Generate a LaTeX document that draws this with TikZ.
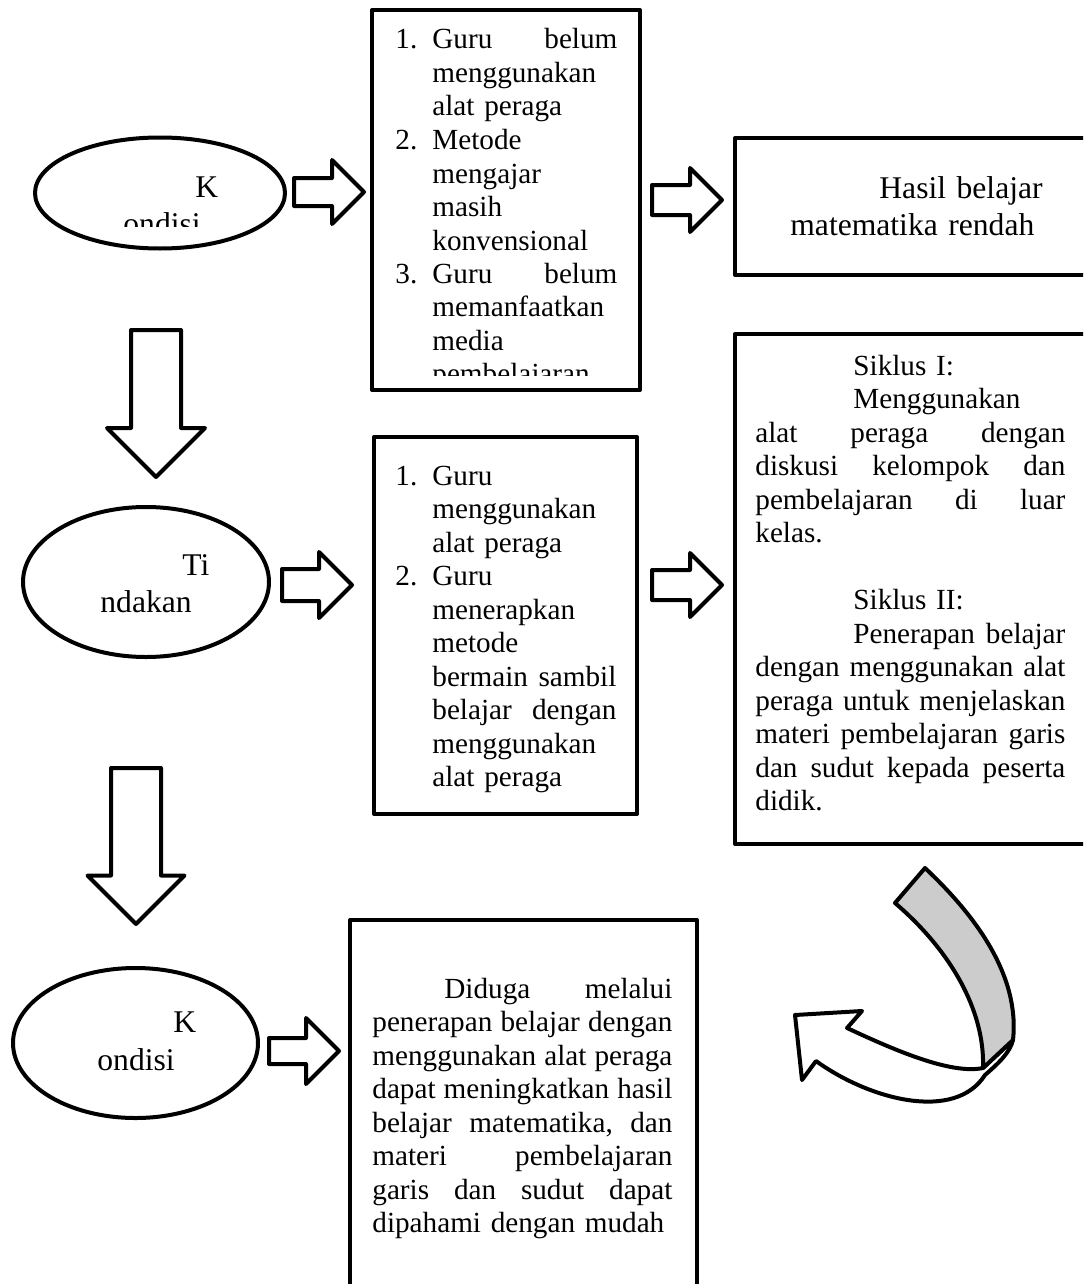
\documentclass[tikz,border=0pt]{standalone}
\usepackage{fontspec}
\setmainfont{Liberation Serif}
\usetikzlibrary{shapes.geometric,shapes.arrows}

\definecolor{ribbon}{HTML}{CCCCCC}
\newcommand{\bodyfont}{\fontsize{14.6}{16.75}\selectfont}
\newcommand{\bigfont}{\fontsize{15.8}{18.5}\selectfont}
\newcommand{\itemno}[1]{\leavevmode\llap{\makebox[18.5pt][l]{#1}}}

\tikzset{
	box/.style={draw, line width=2pt, rectangle, anchor=north west, inner sep=0pt},
	bubble/.style={draw, line width=2pt, ellipse, inner sep=0pt},
	txt/.style={inner sep=0pt, anchor=base west, align=left, font=\bodyfont},
	blk/.style={draw, line width=2pt, single arrow, anchor=tail, inner xsep=0pt,
		single arrow tip angle=90, minimum height=35pt},
}

\begin{document}
\begin{tikzpicture}[x=0.5pt, y=-0.5pt, line join=round]
	\clip (0,0) rectangle (1083,1284);
	% ellipses
	\node[bubble, minimum width=125pt, minimum height=55.5pt] (kondisiA) at (160,193) {};
	\node[bubble, minimum width=123pt, minimum height=75pt] (tindakan) at (146,582) {};
	\node[bubble, minimum width=122.5pt, minimum height=75pt] (kondisiB) at (135.5,1043) {};
	\begin{scope}
		\clip (40,140) rectangle (280,226);
		\node[txt, font=\bigfont, text width=60pt] (tkA) at (123,197) {\hspace*{36pt}K\\ondisi};
	\end{scope}
	\node[txt, font=\bigfont, text width=60pt] (tkT) at (100,575) {\hspace*{41pt}Ti\\ndakan};
	\node[txt, font=\fontsize{15.8}{19}\selectfont, text width=60pt] (tkB) at (97,1032) {\hspace*{38pt}K\\ondisi};
	% boxes
	\node[box, minimum width=134pt, minimum height=190pt] (masalah) at (370,8) {};
	\node[box, minimum width=200pt, minimum height=68.5pt] (hasil) at (733,136) {};
	\node[box, minimum width=200pt, minimum height=255pt] (siklus) at (733,332) {};
	\node[box, minimum width=131.5pt, minimum height=188.5pt] (tindak) at (372,435) {};
	\node[box, minimum width=173.5pt, minimum height=200pt] (hipotesis) at (348,918) {};
	\begin{scope}
		\clip (372,10) rectangle (636,375);
		\node[txt, text width=92.5pt] (tmasalah) at (432,49) {\itemno{1.}Guru\hfill belum\\
			menggunakan\\
			alat peraga\\
			\itemno{2.}Metode\\
			mengajar\\
			masih\\
			konvensional\\
			\itemno{3.}Guru\hfill belum\\
			memanfaatkan\\
			media\\
			pembelajaran};
	\end{scope}
	\node[txt, font=\bigfont, text width=130pt] (thasil) at (790,198) {\hspace*{44.5pt}Hasil belajar\\matematika rendah};
	\node[txt, text width=155pt] (tsiklus) at (755,375) {\hspace*{49pt}Siklus I:\\
		\hspace*{49pt}Menggunakan\\
		alat\hfill peraga\hfill dengan\\
		diskusi\hfill kelompok\hfill dan\\
		pembelajaran\hfill di\hfill luar\\
		kelas.\\
		\mbox{}\\
		\hspace*{49pt}Siklus II:\\
		\hspace*{49pt}Penerapan\hfill belajar\\
		dengan\hfill menggunakan\hfill alat\\
		peraga\hfill untuk\hfill menjelaskan\\
		materi\hfill pembelajaran\hfill garis\\
		dan\hfill sudut\hfill kepada\hfill peserta\\
		didik.};
	\node[txt, text width=92pt] (ttindak) at (432,485) {\itemno{1.}Guru\\
		menggunakan\\
		alat peraga\\
		\itemno{2.}Guru\\
		menerapkan\\
		metode\\
		bermain\hfill sambil\\
		belajar\hfill dengan\\
		menggunakan\\
		alat peraga};
	\node[txt, text width=150pt] (thipotesis) at (372,998) {\hspace*{36pt}Diduga\hfill melalui\\
		penerapan\hfill belajar\hfill dengan\\
		menggunakan\hfill alat\hfill peraga\\
		dapat\hfill meningkatkan\hfill hasil\\
		belajar\hfill matematika,\hfill dan\\
		materi\hfill pembelajaran\\
		garis\hfill dan\hfill sudut\hfill dapat\\
		dipahami dengan mudah};
	% block arrows
	\node[blk, inner ysep=6pt, single arrow head extend=9pt] (ar1) at (292,192) {};
	\node[blk, inner ysep=6.5pt, single arrow head extend=8.5pt] (ar2) at (650,200) {};
	\node[blk, inner ysep=7pt, single arrow head extend=8.5pt] (ar3) at (280,585) {};
	\node[blk, inner ysep=6.5pt, single arrow head extend=8.5pt] (ar4) at (650,585) {};
	\node[blk, inner ysep=5.5pt, single arrow head extend=10pt] (ar5) at (267,1051) {};
	\node[blk, rotate=-90, minimum height=73.5pt, inner ysep=11.5pt, single arrow head extend=12pt] (dn1) at (156,328) {};
	\node[blk, rotate=-90, minimum height=78pt, inner ysep=11.5pt, single arrow head extend=11.75pt] (dn2) at (136,766) {};
	% curved arrow back
	\draw[line width=2pt, fill=white] (983,1068) .. controls (950,1075) and (890,1048) .. (847,1028)
		-- (862,1011) -- (795,1015) -- (802,1080) -- (816,1061)
		.. controls (870,1100) and (955,1122) .. (985,1075)
		.. controls (1000,1062) and (1010,1052) .. (1013,1040) -- cycle;
	\draw[line width=2pt, fill=ribbon] (895,903) -- (925,868)
		.. controls (975,915) and (1020,975) .. (1013,1040) -- (983,1068)
		.. controls (985,1010) and (950,950) .. cycle;
\end{tikzpicture}
\end{document}
